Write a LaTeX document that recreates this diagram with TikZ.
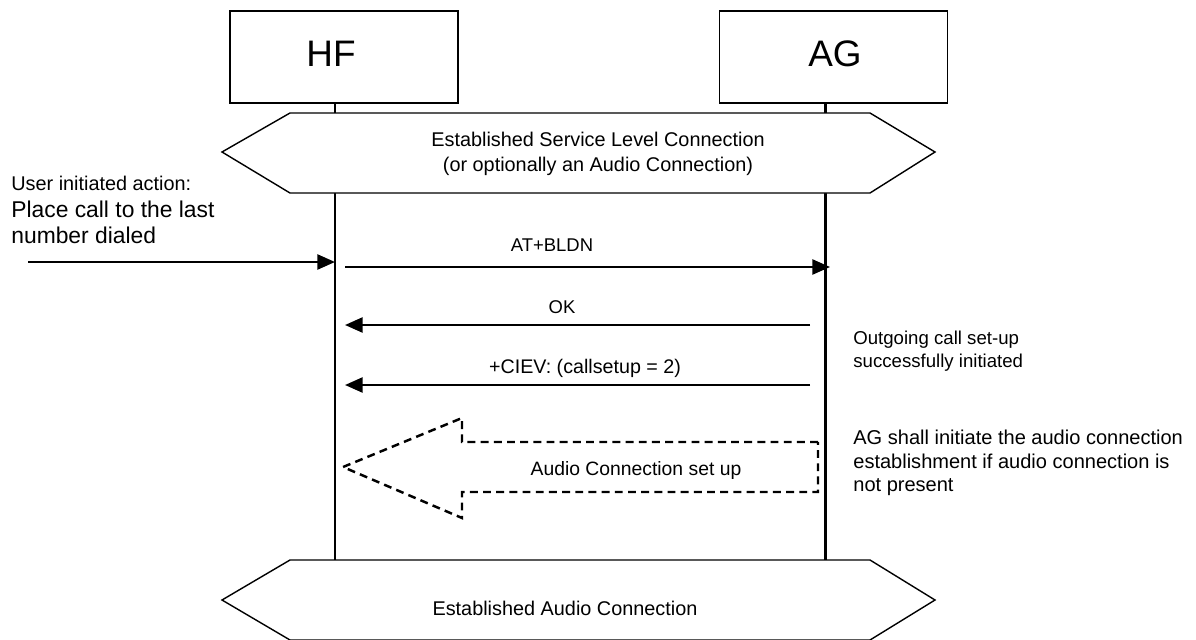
\documentclass[tikz,border=0pt]{standalone}
\usepackage{fontspec}
\setmainfont{Liberation Sans}
\usetikzlibrary{arrows.meta}

\begin{document}
\begin{tikzpicture}[x=0.02cm,y=-0.02cm,
    ent/.style={draw,line width=0.7pt,minimum width=4.56cm,minimum height=1.84cm},
    entl/.style={font=\fontsize{21}{24}\selectfont},
    life/.style={line width=1.7pt},
    msg/.style={line width=1.4pt,-{Triangle[length=10pt,width=8.5pt]}},
    lbl/.style={font=\fontsize{10.5}{12.5}\selectfont},
    hexl/.style={font=\fontsize{11.3}{14.5}\selectfont,align=center},
    note/.style={align=left,anchor=west,inner sep=0pt},
    hexa/.style={line width=0.8pt,fill=white}]
  \clip (0,0) rectangle (1196,639);
  % boxes
  \node[ent] (hf) at (344,57) {};
  \node[ent] (ag) at (833.5,57) {};
  \node[entl] (hft) at (331,54) {HF};
  \node[entl] (agt) at (835,54) {AG};
  % lifelines
  \coordinate (hfl) at (335,103);
  \coordinate (agl) at (825,103);
  \coordinate (hfe) at (335,560);
  \coordinate (age) at (825,560);
  \draw[life] (hfl) -- (hfe);
  \draw[life] (agl) -- (age);
  % service level connection
  \draw[hexa] (222,152) -- (290,113) -- (870,113) -- (935,152) -- (870,193) -- (290,193) -- cycle;
  \node[hexl] (slc) at (598,154) {Established Service Level Connection\\(or optionally an Audio Connection)};
  % user action
  \node[anchor=north west,inner sep=0pt,align=left,font=\fontsize{13}{15}\selectfont] (usr) at (11,176)
    {{\fontsize{11.3}{15}\selectfont User initiated action:}\\
     Place call to the last\\number dialed};
  \coordinate (usrs) at (28,262);
  \draw[msg] (usrs) -- (usrs -| hfl);
  % messages
  \coordinate (m1s) at (345,267);
  \coordinate (m1e) at (830,267);
  \draw[msg] (m1s) -- (m1e);
  \node[lbl] (bldn) at (552,245) {AT+BLDN};
  \coordinate (m2s) at (810,325);
  \coordinate (m2e) at (345,325);
  \draw[msg] (m2s) -- (m2e);
  \node[lbl] (ok) at (562,307) {OK};
  \coordinate (m3s) at (810,385);
  \coordinate (m3e) at (345,385);
  \draw[msg] (m3s) -- (m3e);
  \node[lbl,font=\fontsize{11.2}{13}\selectfont] (ciev) at (585,368) {+CIEV: (callsetup = 2)};
  % audio connection set up
  \draw[line width=1.4pt,dash pattern=on 4.5pt off 3pt]
    (818,442) -- (462,442) -- (462,418) -- (343,467) -- (462,518) -- (462,492) -- (818,492) -- cycle;
  \node[lbl,font=\fontsize{11}{13}\selectfont] (acsu) at (636,470) {Audio Connection set up};
  % notes
  \node[note,font=\fontsize{10.6}{13.4}\selectfont] (n1) at (853,351) {Outgoing call set-up\\successfully initiated};
  \node[note,font=\fontsize{11.4}{13.3}\selectfont] (n2) at (853,463)
    {AG shall initiate the audio connection\\establishment if audio connection is\\not present};
  % audio connection
  \draw[hexa] (222,600) -- (290,560) -- (870,560) -- (935,600) -- (870,640) -- (290,640) -- cycle;
  \node[hexl] (ac) at (565,608) {Established Audio Connection};
\end{tikzpicture}
\end{document}
